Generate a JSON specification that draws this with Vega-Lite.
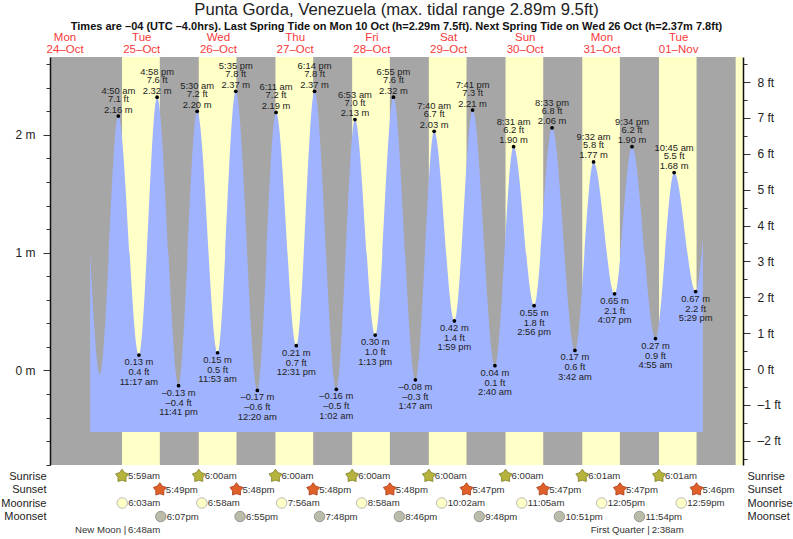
{
  "$schema": "https://vega.github.io/schema/vega-lite/v6.json",
  "width": 693,
  "height": 408,
  "autosize": "none",
  "padding": {"left": 50, "top": 57, "right": 50, "bottom": 74},
  "background": "white",
  "title": {
    "text": "Punta Gorda, Venezuela (max. tidal range 2.89m 9.5ft)",
    "subtitle": "Times are –04 (UTC –4.0hrs). Last Spring Tide on Mon 10 Oct (h=2.29m 7.5ft). Next Spring Tide on Wed 26 Oct (h=2.37m 7.8ft)",
    "anchor": "middle",
    "frame": "group",
    "font": "Liberation Sans",
    "fontSize": 16.7,
    "fontWeight": "normal",
    "color": "#222222",
    "subtitleFont": "Liberation Sans",
    "subtitleFontSize": 11,
    "subtitleFontWeight": "bold",
    "subtitleColor": "#111111",
    "subtitlePadding": 2,
    "offset": -1
  },
  "config": {
    "font": "Liberation Sans",
    "view": {"stroke": null, "fill": "#ffffc8"},
    "axis": {"labelFont": "Liberation Sans", "titleFont": "Liberation Sans"}
  },
  "datasets": {
    "tides": [
      {"time": "2022-10-24T20:00", "m": 1.0, "ft": 3.3, "kind": "edge"},
      {"time": "2022-10-24T23:07", "m": -0.03, "ft": -0.1, "kind": "edge"},
      {"time": "2022-10-25T04:50", "m": 2.16, "ft": 7.1, "kind": "high", "m_text": "2.16 m", "ft_text": "7.1 ft", "clock": "4:50 am"},
      {"time": "2022-10-25T11:17", "m": 0.13, "ft": 0.4, "kind": "low", "m_text": "0.13 m", "ft_text": "0.4 ft", "clock": "11:17 am"},
      {"time": "2022-10-25T16:58", "m": 2.32, "ft": 7.6, "kind": "high", "m_text": "2.32 m", "ft_text": "7.6 ft", "clock": "4:58 pm"},
      {"time": "2022-10-25T23:41", "m": -0.13, "ft": -0.4, "kind": "low", "m_text": "–0.13 m", "ft_text": "–0.4 ft", "clock": "11:41 pm"},
      {"time": "2022-10-26T05:30", "m": 2.2, "ft": 7.2, "kind": "high", "m_text": "2.20 m", "ft_text": "7.2 ft", "clock": "5:30 am"},
      {"time": "2022-10-26T11:53", "m": 0.15, "ft": 0.5, "kind": "low", "m_text": "0.15 m", "ft_text": "0.5 ft", "clock": "11:53 am"},
      {"time": "2022-10-26T17:35", "m": 2.37, "ft": 7.8, "kind": "high", "m_text": "2.37 m", "ft_text": "7.8 ft", "clock": "5:35 pm"},
      {"time": "2022-10-27T00:20", "m": -0.17, "ft": -0.6, "kind": "low", "m_text": "–0.17 m", "ft_text": "–0.6 ft", "clock": "12:20 am"},
      {"time": "2022-10-27T06:11", "m": 2.19, "ft": 7.2, "kind": "high", "m_text": "2.19 m", "ft_text": "7.2 ft", "clock": "6:11 am"},
      {"time": "2022-10-27T12:31", "m": 0.21, "ft": 0.7, "kind": "low", "m_text": "0.21 m", "ft_text": "0.7 ft", "clock": "12:31 pm"},
      {"time": "2022-10-27T18:14", "m": 2.37, "ft": 7.8, "kind": "high", "m_text": "2.37 m", "ft_text": "7.8 ft", "clock": "6:14 pm"},
      {"time": "2022-10-28T01:02", "m": -0.16, "ft": -0.5, "kind": "low", "m_text": "–0.16 m", "ft_text": "–0.5 ft", "clock": "1:02 am"},
      {"time": "2022-10-28T06:53", "m": 2.13, "ft": 7.0, "kind": "high", "m_text": "2.13 m", "ft_text": "7.0 ft", "clock": "6:53 am"},
      {"time": "2022-10-28T13:13", "m": 0.3, "ft": 1.0, "kind": "low", "m_text": "0.30 m", "ft_text": "1.0 ft", "clock": "1:13 pm"},
      {"time": "2022-10-28T18:55", "m": 2.32, "ft": 7.6, "kind": "high", "m_text": "2.32 m", "ft_text": "7.6 ft", "clock": "6:55 pm"},
      {"time": "2022-10-29T01:47", "m": -0.08, "ft": -0.3, "kind": "low", "m_text": "–0.08 m", "ft_text": "–0.3 ft", "clock": "1:47 am"},
      {"time": "2022-10-29T07:40", "m": 2.03, "ft": 6.7, "kind": "high", "m_text": "2.03 m", "ft_text": "6.7 ft", "clock": "7:40 am"},
      {"time": "2022-10-29T13:59", "m": 0.42, "ft": 1.4, "kind": "low", "m_text": "0.42 m", "ft_text": "1.4 ft", "clock": "1:59 pm"},
      {"time": "2022-10-29T19:41", "m": 2.21, "ft": 7.3, "kind": "high", "m_text": "2.21 m", "ft_text": "7.3 ft", "clock": "7:41 pm"},
      {"time": "2022-10-30T02:40", "m": 0.04, "ft": 0.1, "kind": "low", "m_text": "0.04 m", "ft_text": "0.1 ft", "clock": "2:40 am"},
      {"time": "2022-10-30T08:31", "m": 1.9, "ft": 6.2, "kind": "high", "m_text": "1.90 m", "ft_text": "6.2 ft", "clock": "8:31 am"},
      {"time": "2022-10-30T14:56", "m": 0.55, "ft": 1.8, "kind": "low", "m_text": "0.55 m", "ft_text": "1.8 ft", "clock": "2:56 pm"},
      {"time": "2022-10-30T20:33", "m": 2.06, "ft": 6.8, "kind": "high", "m_text": "2.06 m", "ft_text": "6.8 ft", "clock": "8:33 pm"},
      {"time": "2022-10-31T03:42", "m": 0.17, "ft": 0.6, "kind": "low", "m_text": "0.17 m", "ft_text": "0.6 ft", "clock": "3:42 am"},
      {"time": "2022-10-31T09:32", "m": 1.77, "ft": 5.8, "kind": "high", "m_text": "1.77 m", "ft_text": "5.8 ft", "clock": "9:32 am"},
      {"time": "2022-10-31T16:07", "m": 0.65, "ft": 2.1, "kind": "low", "m_text": "0.65 m", "ft_text": "2.1 ft", "clock": "4:07 pm"},
      {"time": "2022-10-31T21:34", "m": 1.9, "ft": 6.2, "kind": "high", "m_text": "1.90 m", "ft_text": "6.2 ft", "clock": "9:34 pm"},
      {"time": "2022-11-01T04:55", "m": 0.27, "ft": 0.9, "kind": "low", "m_text": "0.27 m", "ft_text": "0.9 ft", "clock": "4:55 am"},
      {"time": "2022-11-01T10:45", "m": 1.68, "ft": 5.5, "kind": "high", "m_text": "1.68 m", "ft_text": "5.5 ft", "clock": "10:45 am"},
      {"time": "2022-11-01T17:29", "m": 0.67, "ft": 2.2, "kind": "low", "m_text": "0.67 m", "ft_text": "2.2 ft", "clock": "5:29 pm"},
      {"time": "2022-11-01T19:45", "m": 1.12, "ft": 3.7, "kind": "edge"}
    ],
    "nights": [
      {"time": "2022-10-24T07:27", "end": "2022-10-25T05:59"},
      {"time": "2022-10-25T17:49", "end": "2022-10-26T06:00"},
      {"time": "2022-10-26T17:48", "end": "2022-10-27T06:00"},
      {"time": "2022-10-27T17:48", "end": "2022-10-28T06:00"},
      {"time": "2022-10-28T17:48", "end": "2022-10-29T06:00"},
      {"time": "2022-10-29T17:47", "end": "2022-10-30T06:00"},
      {"time": "2022-10-30T17:47", "end": "2022-10-31T06:01"},
      {"time": "2022-10-31T17:47", "end": "2022-11-01T06:01"},
      {"time": "2022-11-01T17:46", "end": "2022-11-02T06:00"}
    ],
    "events": [
      {"row": "Sunrise", "time": "2022-10-25T05:59", "clock": "5:59am"},
      {"row": "Sunrise", "time": "2022-10-26T06:00", "clock": "6:00am"},
      {"row": "Sunrise", "time": "2022-10-27T06:00", "clock": "6:00am"},
      {"row": "Sunrise", "time": "2022-10-28T06:00", "clock": "6:00am"},
      {"row": "Sunrise", "time": "2022-10-29T06:00", "clock": "6:00am"},
      {"row": "Sunrise", "time": "2022-10-30T06:00", "clock": "6:00am"},
      {"row": "Sunrise", "time": "2022-10-31T06:01", "clock": "6:01am"},
      {"row": "Sunrise", "time": "2022-11-01T06:01", "clock": "6:01am"},
      {"row": "Sunset", "time": "2022-10-25T17:49", "clock": "5:49pm"},
      {"row": "Sunset", "time": "2022-10-26T17:48", "clock": "5:48pm"},
      {"row": "Sunset", "time": "2022-10-27T17:48", "clock": "5:48pm"},
      {"row": "Sunset", "time": "2022-10-28T17:48", "clock": "5:48pm"},
      {"row": "Sunset", "time": "2022-10-29T17:47", "clock": "5:47pm"},
      {"row": "Sunset", "time": "2022-10-30T17:47", "clock": "5:47pm"},
      {"row": "Sunset", "time": "2022-10-31T17:47", "clock": "5:47pm"},
      {"row": "Sunset", "time": "2022-11-01T17:46", "clock": "5:46pm"},
      {"row": "Moonrise", "time": "2022-10-25T06:03", "clock": "6:03am"},
      {"row": "Moonrise", "time": "2022-10-26T06:58", "clock": "6:58am"},
      {"row": "Moonrise", "time": "2022-10-27T07:56", "clock": "7:56am"},
      {"row": "Moonrise", "time": "2022-10-28T08:58", "clock": "8:58am"},
      {"row": "Moonrise", "time": "2022-10-29T10:02", "clock": "10:02am"},
      {"row": "Moonrise", "time": "2022-10-30T11:05", "clock": "11:05am"},
      {"row": "Moonrise", "time": "2022-10-31T12:05", "clock": "12:05pm"},
      {"row": "Moonrise", "time": "2022-11-01T12:59", "clock": "12:59pm"},
      {"row": "Moonset", "time": "2022-10-25T18:07", "clock": "6:07pm"},
      {"row": "Moonset", "time": "2022-10-26T18:55", "clock": "6:55pm"},
      {"row": "Moonset", "time": "2022-10-27T19:48", "clock": "7:48pm"},
      {"row": "Moonset", "time": "2022-10-28T20:46", "clock": "8:46pm"},
      {"row": "Moonset", "time": "2022-10-29T21:48", "clock": "9:48pm"},
      {"row": "Moonset", "time": "2022-10-30T22:51", "clock": "10:51pm"},
      {"row": "Moonset", "time": "2022-10-31T23:54", "clock": "11:54pm"}
    ],
    "phases": [
      {"row": "Phase", "time": "2022-10-25T06:48", "phase": "New Moon |", "clock": "6:48am"},
      {"row": "Phase", "time": "2022-11-01T02:38", "phase": "First Quarter |", "clock": "2:38am"}
    ]
  },
  "resolve": {"scale": {"y": "independent"}},
  "encoding": {
    "x": {
      "field": "time",
      "type": "temporal",
      "title": null,
      "scale": {"domain": ["2022-10-24T07:27", "2022-11-02T08:18"], "nice": false},
      "axis": {
        "orient": "top",
        "values": [
          {"year": 2022, "month": 10, "date": 24, "hours": 12},
          {"year": 2022, "month": 10, "date": 25, "hours": 12},
          {"year": 2022, "month": 10, "date": 26, "hours": 12},
          {"year": 2022, "month": 10, "date": 27, "hours": 12},
          {"year": 2022, "month": 10, "date": 28, "hours": 12},
          {"year": 2022, "month": 10, "date": 29, "hours": 12},
          {"year": 2022, "month": 10, "date": 30, "hours": 12},
          {"year": 2022, "month": 10, "date": 31, "hours": 12},
          {"year": 2022, "month": 11, "date": 1, "hours": 12}
        ],
        "labelExpr": "[timeFormat(datum.value, '%a'), timeFormat(datum.value, '%d–%b')]",
        "labelColor": "#f83a3a",
        "labelFontSize": 11.5,
        "labelPadding": 15,
        "labelOverlap": false,
        "labelFlush": false,
        "labelLineHeight": 12,
        "domain": false,
        "ticks": false,
        "grid": false
      }
    }
  },
  "layer": [
    {
      "data": {"name": "nights"},
      "mark": {"type": "rect", "color": "#a6a6a6"},
      "encoding": {"x2": {"field": "end"}}
    },
    {
      "data": {"name": "tides"},
      "encoding": {
        "y": {
          "field": "m",
          "type": "quantitative",
          "title": null,
          "scale": {"domain": [-0.803, 2.661], "nice": false, "zero": false},
          "axis": {
            "orient": "left",
            "zindex": 1,
            "values": [-0.8, -0.6, -0.4, -0.2, 0, 0.2, 0.4, 0.6, 0.8, 1, 1.2, 1.4, 1.6, 1.8, 2, 2.2, 2.4, 2.6],
            "labelExpr": "abs(datum.value - round(datum.value)) < 0.01 ? format(datum.value, 'd') + ' m' : ''",
            "tickSize": {"condition": {"test": "abs(datum.value - round(datum.value)) < 0.01", "value": 7}, "value": 4},
            "labelFontSize": 12,
            "labelColor": "#222222",
            "labelPadding": 8,
            "labelOverlap": false,
            "tickColor": "#333333",
            "domainColor": "#111111",
            "domainWidth": 1.5,
            "grid": false
          }
        }
      },
      "layer": [
        {
          "mark": {"type": "area", "interpolate": "monotone", "color": "#a0b3fe"},
          "encoding": {"y2": {"datum": -0.523}}
        },
        {
          "transform": [{"filter": "datum.kind != 'edge'"}],
          "mark": {"type": "point", "filled": true, "color": "#000000", "size": 14, "opacity": 1}
        },
        {
          "transform": [{"filter": "datum.kind == 'high'"}],
          "mark": {"type": "text", "fontSize": 9.4, "color": "#222222", "dy": -6.5},
          "encoding": {"text": {"field": "m_text"}}
        },
        {
          "transform": [{"filter": "datum.kind == 'high'"}],
          "mark": {"type": "text", "fontSize": 9.4, "color": "#222222", "dy": -17},
          "encoding": {"text": {"field": "ft_text"}}
        },
        {
          "transform": [{"filter": "datum.kind == 'high'"}],
          "mark": {"type": "text", "fontSize": 9.4, "color": "#222222", "dy": -25},
          "encoding": {"text": {"field": "clock"}}
        },
        {
          "transform": [{"filter": "datum.kind == 'low'"}],
          "mark": {"type": "text", "fontSize": 9.4, "color": "#222222", "dy": 7},
          "encoding": {"text": {"field": "m_text"}}
        },
        {
          "transform": [{"filter": "datum.kind == 'low'"}],
          "mark": {"type": "text", "fontSize": 9.4, "color": "#222222", "dy": 17},
          "encoding": {"text": {"field": "ft_text"}}
        },
        {
          "transform": [{"filter": "datum.kind == 'low'"}],
          "mark": {"type": "text", "fontSize": 9.4, "color": "#222222", "dy": 26.5},
          "encoding": {"text": {"field": "clock"}}
        }
      ]
    },
    {
      "data": {"name": "tides"},
      "mark": {"type": "line", "opacity": 0},
      "encoding": {
        "y": {
          "field": "ft",
          "type": "quantitative",
          "title": null,
          "scale": {"domain": [-2.676, 8.7], "nice": false, "zero": false},
          "axis": {
            "orient": "right",
            "zindex": 1,
            "values": [-2.5, -2, -1.5, -1, -0.5, 0, 0.5, 1, 1.5, 2, 2.5, 3, 3.5, 4, 4.5, 5, 5.5, 6, 6.5, 7, 7.5, 8, 8.5],
            "labelExpr": "datum.value % 1 != 0 ? '' : (datum.value < 0 ? '–' + abs(datum.value) : datum.value) + ' ft'",
            "tickSize": {"condition": {"test": "datum.value % 1 == 0", "value": 7}, "value": 4},
            "labelFontSize": 12,
            "labelColor": "#222222",
            "labelPadding": 7,
            "labelOverlap": false,
            "tickColor": "#333333",
            "domainColor": "#111111",
            "domainWidth": 1.5,
            "grid": false
          }
        }
      }
    },
    {
      "encoding": {
        "y": {
          "field": "row",
          "type": "nominal",
          "title": null,
          "scale": {"domain": ["Sunrise", "Sunset", "Moonrise", "Moonset", "Phase"], "type": "point", "range": [419, 473], "padding": 0},
          "axis": {
            "orient": "left",
            "values": ["Sunrise", "Sunset", "Moonrise", "Moonset"],
            "labelFontSize": 11,
            "labelColor": "#222222",
            "labelPadding": 4,
            "ticks": false,
            "domain": false,
            "grid": false
          }
        }
      },
      "layer": [
        {
          "data": {"name": "events"},
          "mark": {"type": "point", "filled": true, "size": 110, "strokeWidth": 0.8, "opacity": 1},
          "encoding": {
            "shape": {
              "field": "row",
              "legend": null,
              "scale": {
                "domain": ["Sunrise", "Sunset", "Moonrise", "Moonset"],
                "range": [
                  "M0,-1.3L0.47,-0.647L1.236,-0.402L0.761,0.247L0.764,1.052L0,0.8L-0.764,1.052L-0.761,0.247L-1.236,-0.402L-0.47,-0.647Z",
                  "M0,-1.3L0.47,-0.647L1.236,-0.402L0.761,0.247L0.764,1.052L0,0.8L-0.764,1.052L-0.761,0.247L-1.236,-0.402L-0.47,-0.647Z",
                  "circle",
                  "circle"
                ]
              }
            },
            "fill": {
              "field": "row",
              "legend": null,
              "scale": {"domain": ["Sunrise", "Sunset", "Moonrise", "Moonset"], "range": ["#b5b33c", "#e0602a", "#ffffc8", "#bbbbaa"]}
            },
            "stroke": {
              "field": "row",
              "legend": null,
              "scale": {"domain": ["Sunrise", "Sunset", "Moonrise", "Moonset"], "range": ["#7f7f2a", "#a63d1a", "#aaaaaa", "#888888"]}
            }
          }
        },
        {
          "data": {"name": "events"},
          "mark": {"type": "text", "align": "left", "dx": 6, "fontSize": 9.6, "color": "#333333"},
          "encoding": {"text": {"field": "clock"}}
        },
        {
          "data": {"name": "phases"},
          "mark": {"type": "text", "align": "right", "dx": 1.5, "fontSize": 9.6, "color": "#333333"},
          "encoding": {"text": {"field": "phase"}}
        },
        {
          "data": {"name": "phases"},
          "mark": {"type": "text", "align": "left", "dx": 3.5, "fontSize": 9.6, "color": "#333333"},
          "encoding": {"text": {"field": "clock"}}
        }
      ]
    },
    {
      "data": {"name": "events"},
      "mark": {"type": "text", "opacity": 0},
      "encoding": {
        "y": {
          "field": "row",
          "type": "nominal",
          "title": null,
          "scale": {"domain": ["Sunrise", "Sunset", "Moonrise", "Moonset", "Phase"], "type": "point", "range": [419, 473], "padding": 0},
          "axis": {
            "orient": "right",
            "values": ["Sunrise", "Sunset", "Moonrise", "Moonset"],
            "labelFontSize": 11,
            "labelColor": "#222222",
            "labelPadding": 4,
            "ticks": false,
            "domain": false,
            "grid": false
          }
        },
        "text": {"field": "clock"}
      }
    }
  ]
}
